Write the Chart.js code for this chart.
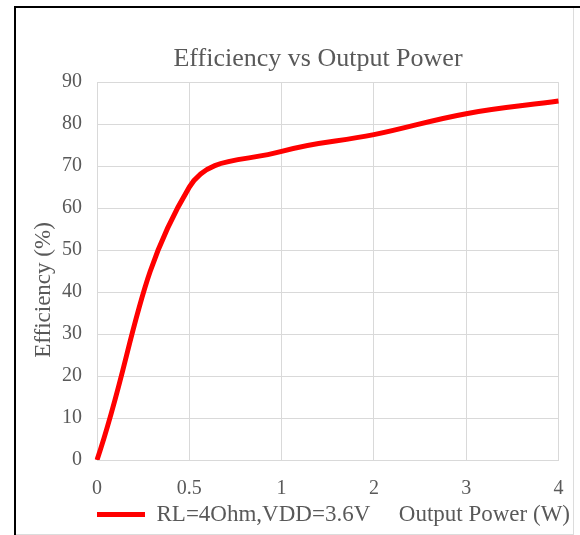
<!DOCTYPE html>
<html>
<head>
<meta charset="utf-8">
<title>Efficiency vs Output Power</title>
<script src="https://cdn.jsdelivr.net/npm/chart.js@4/dist/chart.umd.min.js"></script>
<style>
  html, body { margin: 0; padding: 0; background: #fff; }
  #frame {
    position: absolute; left: 14px; top: 6px;
    width: 566px; height: 529px;
    border-left: 2px solid #000; border-top: 2px solid #000;
  }
  #chart-box {
    position: absolute; left: 0; top: 0;
    width: 557px; height: 526px;
    border-right: 1px solid #dcdcdc; border-bottom: 1px solid #dcdcdc;
  }
</style>
</head>
<body>
<div id="frame">
  <div id="chart-box"><canvas id="eff-chart"></canvas></div>
</div>
<script>
// chart data
const powerLabels = ['0', '0.5', '1', '2', '3', '4'];
const efficiency = [0, 65, 73.5, 77.5, 82.5, 85.5];
const seriesName = 'RL=4Ohm,VDD=3.6V';
const xTitle = 'Output Power (W)';
const yTitle = 'Efficiency (%)';

const SERIF = "'Liberation Serif', 'Times New Roman', serif";
const TEXT = '#595959';
const GRID = '#d9d9d9';

// axis titles: x title sits on the legend row, y title a bit below centre
const axisTitles = {
  id: 'axisTitles',
  afterLayout(chart) {
    // y axis box is kept narrow so the title centres like the original;
    // widen it again so the tick labels are not clipped
    chart.scales.y.left = 0;
  },
  afterDraw(chart) {
    const ctx = chart.ctx;
    ctx.save();
    ctx.fillStyle = TEXT;
    ctx.font = '23px ' + SERIF;
    ctx.textBaseline = 'middle';
    ctx.textAlign = 'right';
    ctx.fillText(xTitle, chart.width - 3, chart.legend.top + 12);

    ctx.translate(28, 282);
    ctx.rotate(-Math.PI / 2);
    ctx.textAlign = 'center';
    ctx.fillText(yTitle, 0, 0);
    ctx.restore();
  }
};

const ctx = document.getElementById('eff-chart');
new Chart(ctx, {
  type: 'line',
  data: {
    labels: powerLabels,
    datasets: [{
      label: seriesName,
      data: efficiency,
      borderColor: '#ff0000',
      backgroundColor: '#ff0000',
      borderWidth: 5,
      pointRadius: 0,
      tension: 0.4,
      fill: false
    }]
  },
  options: {
    responsive: true,
    maintainAspectRatio: false,
    animation: false,
    layout: { padding: { left: 61.5, right: 14.5, top: 20, bottom: -2 } },
    plugins: {
      title: {
        display: true,
        text: 'Efficiency vs Output Power',
        color: TEXT,
        font: { family: SERIF, size: 26, weight: 'normal' },
        padding: { top: 16, bottom: 7 }
      },
      legend: {
        position: 'bottom',
        align: 'start',
        fullSize: false,
        labels: {
          usePointStyle: true,
          pointStyle: 'line',
          pointStyleWidth: 48,
          padding: 0,
          color: TEXT,
          font: { family: SERIF, size: 23 }
        }
      },
      tooltip: { enabled: false }
    },
    scales: {
      x: {
        afterFit(scale) { scale.height = 43; },
        // invisible tick marks push the labels down without widening the side padding
        grid: { color: GRID, drawTicks: true, tickLength: 17, tickColor: 'rgba(0,0,0,0)' },
        border: { color: GRID },
        ticks: {
          color: TEXT,
          padding: 0,
          maxRotation: 0,
          font: { family: SERIF, size: 20 }
        }
      },
      y: {
        min: 0,
        max: 90,
        afterFit(scale) { scale.width = 19.5; },
        grid: { color: GRID, drawTicks: false },
        border: { color: GRID },
        ticks: {
          stepSize: 10,
          color: TEXT,
          padding: 15,
          font: { family: SERIF, size: 20 }
        }
      }
    }
  },
  plugins: [axisTitles]
});
</script>
</body>
</html>
